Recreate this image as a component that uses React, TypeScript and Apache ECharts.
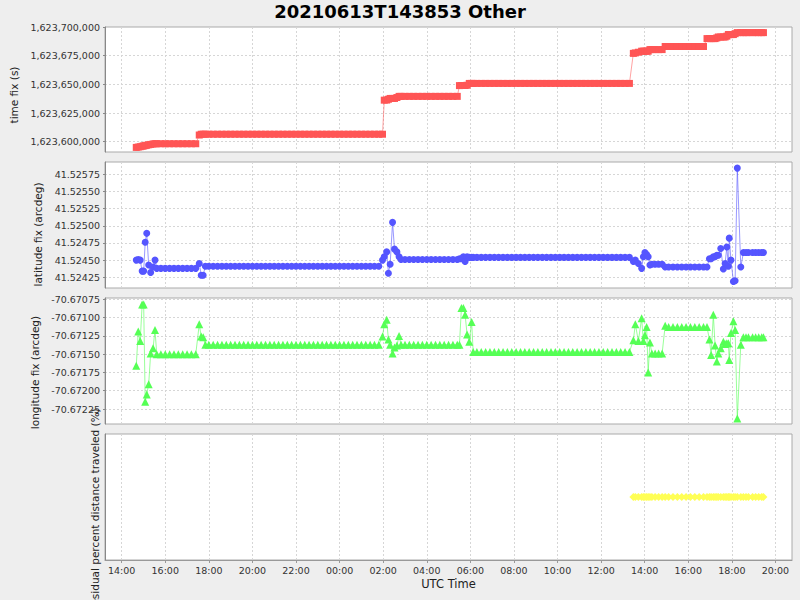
import React, { useEffect, useRef } from "react";
import * as echarts from "echarts";

// Hours since 2021-06-13 00:00 UTC (values above 24 are on 2021-06-14)
const timeH = [
  14.67, 14.76, 14.85, 14.94, 15.01, 15.08, 15.15, 15.24, 15.33, 15.44, 15.53, 15.61,
  15.8, 16.0, 16.2, 16.4, 16.6, 16.8, 17.0, 17.2, 17.4,
  17.56, 17.65, 17.74, 17.84,
  18.0, 18.2, 18.4, 18.6, 18.8, 19.0, 19.2, 19.4, 19.6, 19.8,
  20.0, 20.2, 20.4, 20.6, 20.8, 21.0, 21.2, 21.4, 21.6, 21.8,
  22.0, 22.2, 22.4, 22.6, 22.8, 23.0, 23.2, 23.4, 23.6, 23.8,
  24.0, 24.2, 24.4, 24.6, 24.8, 25.0, 25.2, 25.4, 25.6, 25.8,
  25.97, 26.05, 26.16, 26.24, 26.32, 26.43, 26.52, 26.63, 26.73, 26.82,
  27.0, 27.2, 27.4, 27.6, 27.8, 28.0, 28.2, 28.4, 28.6, 28.8, 29.0, 29.2, 29.4,
  29.5, 29.59, 29.68, 29.76, 29.85, 29.95, 30.06, 30.13,
  30.3, 30.5, 30.7, 30.9, 31.1, 31.3, 31.5, 31.7, 31.9, 32.1,
  32.3, 32.5, 32.7, 32.9, 33.1, 33.3, 33.5, 33.7, 33.9, 34.1,
  34.3, 34.5, 34.7, 34.9, 35.1, 35.3, 35.5, 35.7, 35.9, 36.1,
  36.3, 36.5, 36.7, 36.9, 37.1, 37.3,
  37.48, 37.57, 37.71, 37.86, 37.94, 38.01, 38.09, 38.16, 38.24, 38.33, 38.48, 38.64, 38.8, 38.94,
  39.1, 39.3, 39.5, 39.7, 39.9, 40.1, 40.3, 40.5, 40.7,
  40.86, 40.97, 41.05, 41.15, 41.23, 41.31, 41.38, 41.49, 41.61, 41.69, 41.77,
  41.84, 41.88, 41.96, 42.07, 42.15, 42.25, 42.41, 42.53, 42.65, 42.76,
  42.95, 43.09, 43.23, 43.37, 43.45,
];

const timeFix = [
  1623595000, 1623595300, 1623595600, 1623596000, 1623596300, 1623596600, 1623596900, 1623597300, 1623597600, 1623598000, 1623598200, 1623598200,
  1623598200, 1623598200, 1623598200, 1623598200, 1623598200, 1623598200, 1623598200, 1623598200, 1623598200,
  1623605800, 1623606500, 1623606500, 1623606500,
  1623606500, 1623606500, 1623606500, 1623606500, 1623606500, 1623606500, 1623606500, 1623606500, 1623606500, 1623606500,
  1623606500, 1623606500, 1623606500, 1623606500, 1623606500, 1623606500, 1623606500, 1623606500, 1623606500, 1623606500,
  1623606500, 1623606500, 1623606500, 1623606500, 1623606500, 1623606500, 1623606500, 1623606500, 1623606500, 1623606500,
  1623606500, 1623606500, 1623606500, 1623606500, 1623606500, 1623606500, 1623606500, 1623606500, 1623606500, 1623606500,
  1623606500, 1623636200, 1623636300, 1623637000, 1623637700, 1623637700, 1623637700, 1623638500, 1623639500, 1623639500,
  1623639500, 1623639500, 1623639500, 1623639500, 1623639500, 1623639500, 1623639500, 1623639500, 1623639500, 1623639500, 1623639500, 1623639500, 1623639500,
  1623648900, 1623649000, 1623649000, 1623649000, 1623649200, 1623650800, 1623650800, 1623650800,
  1623650800, 1623650800, 1623650800, 1623650800, 1623650800, 1623650800, 1623650800, 1623650800, 1623650800, 1623650800,
  1623650800, 1623650800, 1623650800, 1623650800, 1623650800, 1623650800, 1623650800, 1623650800, 1623650800, 1623650800,
  1623650800, 1623650800, 1623650800, 1623650800, 1623650800, 1623650800, 1623650800, 1623650800, 1623650800, 1623650800,
  1623650800, 1623650800, 1623650800, 1623650800, 1623650800, 1623650800,
  1623677000, 1623677400, 1623678000, 1623678900, 1623678900, 1623678900, 1623678900, 1623678900, 1623680300, 1623680300, 1623680300, 1623680300, 1623680300, 1623683000,
  1623683000, 1623683000, 1623683000, 1623683000, 1623683000, 1623683000, 1623683000, 1623683000, 1623683000,
  1623689900, 1623689900, 1623689900, 1623689900, 1623689900, 1623690500, 1623691300, 1623691300, 1623691300, 1623691300, 1623692000,
  1623693400, 1623693400, 1623693400, 1623693400, 1623694200, 1623695100, 1623695100, 1623695100, 1623695100, 1623695100,
  1623695100, 1623695100, 1623695100, 1623695100, 1623695100,
];

const latFix = [
  41.5245, 41.52451, 41.5245, 41.52434, 41.52434, 41.52476, 41.52489, 41.52443, 41.52432, 41.5244, 41.5245, 41.52438,
  41.52438, 41.52438, 41.52438, 41.52438, 41.52438, 41.52438, 41.52438, 41.52438, 41.52438,
  41.52445, 41.52428, 41.52428, 41.52441,
  41.52441, 41.52441, 41.52441, 41.52441, 41.52441, 41.52441, 41.52441, 41.52441, 41.52441, 41.52441,
  41.52441, 41.52441, 41.52441, 41.52441, 41.52441, 41.52441, 41.52441, 41.52441, 41.52441, 41.52441,
  41.52441, 41.52441, 41.52441, 41.52441, 41.52441, 41.52441, 41.52441, 41.52441, 41.52441, 41.52441,
  41.52441, 41.52441, 41.52441, 41.52441, 41.52441, 41.52441, 41.52441, 41.52441, 41.52441, 41.52441,
  41.5245, 41.52455, 41.52462, 41.52431, 41.52444, 41.52505, 41.52466, 41.52462, 41.52455, 41.52451,
  41.52451, 41.52451, 41.52451, 41.52451, 41.52451, 41.52451, 41.52451, 41.52451, 41.52451, 41.52451, 41.52451, 41.52451, 41.52451,
  41.52452, 41.52452, 41.52455, 41.52448, 41.52455, 41.52454, 41.52454, 41.52454,
  41.52454, 41.52454, 41.52454, 41.52454, 41.52454, 41.52454, 41.52454, 41.52454, 41.52454, 41.52454,
  41.52454, 41.52454, 41.52454, 41.52454, 41.52454, 41.52454, 41.52454, 41.52454, 41.52454, 41.52454,
  41.52454, 41.52454, 41.52454, 41.52454, 41.52454, 41.52454, 41.52454, 41.52454, 41.52454, 41.52454,
  41.52454, 41.52454, 41.52454, 41.52454, 41.52454, 41.52454,
  41.52448, 41.5245, 41.52445, 41.52438, 41.52455, 41.52461, 41.52458, 41.52455, 41.52443, 41.52444, 41.52444, 41.52444, 41.52444, 41.5244,
  41.5244, 41.5244, 41.5244, 41.5244, 41.5244, 41.5244, 41.5244, 41.5244, 41.5244,
  41.5244, 41.52452, 41.52452, 41.52455, 41.52455, 41.52457, 41.52457, 41.52467, 41.52437, 41.52445, 41.52469,
  41.52441, 41.52482, 41.5245, 41.52419, 41.5242, 41.52584, 41.5244, 41.52461, 41.52461, 41.52461,
  41.52461, 41.52461, 41.52461, 41.52461, 41.52461,
];

const lonFix = [
  -70.67166, -70.67119, -70.67132, -70.67082, -70.67082, -70.67215, -70.67205, -70.67191, -70.67149, -70.67142, -70.67117, -70.6715,
  -70.6715, -70.6715, -70.6715, -70.6715, -70.6715, -70.6715, -70.6715, -70.6715, -70.6715,
  -70.67109, -70.67126, -70.67127, -70.67137,
  -70.67137, -70.67137, -70.67137, -70.67137, -70.67137, -70.67137, -70.67137, -70.67137, -70.67137, -70.67137,
  -70.67137, -70.67137, -70.67137, -70.67137, -70.67137, -70.67137, -70.67137, -70.67137, -70.67137, -70.67137,
  -70.67137, -70.67137, -70.67137, -70.67137, -70.67137, -70.67137, -70.67137, -70.67137, -70.67137, -70.67137,
  -70.67137, -70.67137, -70.67137, -70.67137, -70.67137, -70.67137, -70.67137, -70.67137, -70.67137, -70.67137,
  -70.67126, -70.67109, -70.67103, -70.6713, -70.67137, -70.67149, -70.67141, -70.67138, -70.67125, -70.67137,
  -70.67137, -70.67137, -70.67137, -70.67137, -70.67137, -70.67137, -70.67137, -70.67137, -70.67137, -70.67137, -70.67137, -70.67137, -70.67137,
  -70.67137, -70.67087, -70.67087, -70.67096, -70.67123, -70.67133, -70.67106, -70.67147,
  -70.67147, -70.67147, -70.67147, -70.67147, -70.67147, -70.67147, -70.67147, -70.67147, -70.67147, -70.67147,
  -70.67147, -70.67147, -70.67147, -70.67147, -70.67147, -70.67147, -70.67147, -70.67147, -70.67147, -70.67147,
  -70.67147, -70.67147, -70.67147, -70.67147, -70.67147, -70.67147, -70.67147, -70.67147, -70.67147, -70.67147,
  -70.67147, -70.67147, -70.67147, -70.67147, -70.67147, -70.67147,
  -70.67131, -70.67109, -70.67132, -70.67101, -70.67132, -70.67124, -70.67113, -70.67175, -70.67134, -70.67149, -70.67149, -70.67149, -70.67149, -70.67111,
  -70.67113, -70.67113, -70.67113, -70.67113, -70.67113, -70.67113, -70.67113, -70.67113, -70.67113,
  -70.67113, -70.6713, -70.67151, -70.67096, -70.67138, -70.6716, -70.67149, -70.67142, -70.67133, -70.67136, -70.67135,
  -70.67135, -70.67158, -70.67121, -70.67105, -70.67117, -70.67238, -70.67137, -70.67127, -70.67127, -70.67127,
  -70.67127, -70.67127, -70.67127, -70.67127, -70.67127,
];

const residualTimeH = [
  37.48, 37.57, 37.71, 37.86, 37.94, 38.01, 38.09, 38.16, 38.24, 38.33, 38.48, 38.64, 38.8, 38.94,
  39.1, 39.3, 39.5, 39.7, 39.9, 40.1, 40.3, 40.5, 40.7,
  40.86, 40.97, 41.05, 41.15, 41.23, 41.31, 41.38, 41.49, 41.61, 41.69, 41.77,
  41.84, 41.88, 41.96, 42.07, 42.15, 42.25, 42.41, 42.53, 42.65, 42.76,
  42.95, 43.09, 43.23, 43.37, 43.45,
];
const residualPct = [
  0, 0, 0, 0, 0, 0, 0, 0, 0, 0, 0, 0, 0, 0,
  0, 0, 0, 0, 0, 0, 0, 0, 0,
  0, 0, 0, 0, 0, 0, 0, 0, 0, 0, 0,
  0, 0, 0, 0, 0, 0, 0, 0, 0, 0,
  0, 0, 0, 0, 0,
];

const titleText = "20210613T143853 Other";
const xName = "UTC Time";
const yNames = [
  "time fix (s)",
  "latitude fix (arcdeg)",
  "longitude fix (arcdeg)",
  "residual percent distance traveled (%)",
];

const FONT = "DejaVu Sans";

function fmtHour(v: number) {
  const h = ((Math.round(v) % 24) + 24) % 24;
  return (h < 10 ? "0" : "") + h + ":00";
}

export default function App() {
  const ref = useRef<HTMLDivElement>(null);
  useEffect(() => {
    const chart = echarts.init(ref.current!, null, { renderer: "svg" });
    const gridBoxes = [
      { top: 27, height: 125 },
      { top: 162, height: 126 },
      { top: 298, height: 126 },
      { top: 434, height: 126 },
    ];
    const grid = gridBoxes.map((g) => ({
      left: 105,
      right: 8,
      top: g.top,
      height: g.height,
      show: true,
      containLabel: false,
      outerBoundsMode: "none",
      backgroundColor: "#ffffff",
      borderColor: "#aaaaaa",
      borderWidth: 1,
    }));
    const splitLineStyle = { color: "#d6d6d6", type: [2, 2] as any, width: 1 };
    const xAxis = [0, 1, 2, 3].map((i) => ({
      type: "value",
      gridIndex: i,
      min: 13.235,
      max: 44.76,
      splitNumber: 15,
      minInterval: 2,
      maxInterval: 2,
      axisLine: { show: i === 3, onZero: false, lineStyle: { color: "#999" } },
      axisTick: { show: i === 3, length: 3, lineStyle: { color: "#999" } },
      axisLabel: {
        show: i === 3,
        formatter: fmtHour,
        showMinLabel: false,
        showMaxLabel: false,
        fontSize: 9.5,
        fontFamily: FONT,
        color: "#333",
        margin: 5,
      },
      splitLine: { show: true, showMinLine: false, showMaxLine: false, lineStyle: splitLineStyle },
      name: i === 3 ? xName : "",
      nameLocation: "middle",
      nameGap: 18,
      nameTextStyle: { fontSize: 11.5, fontFamily: FONT, color: "#222" },
    }));
    const yCommon = (i: number) => ({
      type: "value",
      gridIndex: i,
      axisLine: { show: true, onZero: false, lineStyle: { color: "#888" } },
      axisTick: { show: i !== 3, length: 2, lineStyle: { color: "#888" } },
      splitLine: { show: i !== 3, showMinLine: false, showMaxLine: false, lineStyle: splitLineStyle },
      name: yNames[i],
      nameLocation: "middle",
    });
    const labelBase = { fontSize: 9.5, fontFamily: FONT, color: "#333", margin: 5, showMinLabel: false, showMaxLabel: false, hideOverlap: false };
    const yAxis = [
      {
        ...yCommon(0),
        min: 1623591000,
        max: 1623700000,
        splitNumber: 4,
        minInterval: 25000,
        maxInterval: 25000,
        axisLabel: { ...labelBase, showMaxLabel: true, formatter: (v: number) => Math.round(v).toLocaleString("en-US") },
        nameGap: 81,
        nameTextStyle: { fontSize: 10.5, fontFamily: FONT, color: "#222", padding: [0, 11, 0, 0] },
      },
      {
        ...yCommon(1),
        min: 41.524094,
        max: 41.525929,
        splitNumber: 7,
        minInterval: 0.00025,
        maxInterval: 0.00025,
        axisLabel: { ...labelBase, formatter: (v: number) => v.toFixed(5) },
        nameGap: 58,
        nameTextStyle: { fontSize: 10.5, fontFamily: FONT, color: "#222", padding: [0, 19, 0, 0] },
      },
      {
        ...yCommon(2),
        min: -70.672455,
        max: -70.670732,
        splitNumber: 7,
        minInterval: 0.00025,
        maxInterval: 0.00025,
        axisLabel: { ...labelBase, formatter: (v: number) => v.toFixed(5) },
        nameGap: 62,
        nameTextStyle: { fontSize: 10.5, fontFamily: FONT, color: "#222", padding: [0, 23, 0, 0] },
      },
      {
        ...yCommon(3),
        min: -1,
        max: 1,
        axisLabel: { show: false },
        nameGap: 5,
        nameTextStyle: { fontSize: 10.5, fontFamily: FONT, color: "#222", padding: [0, 24, 0, 0] },
      },
    ];
    const mk = (
      idx: number,
      xs: number[],
      ys: number[],
      symbol: string,
      size: number | number[],
      color: string,
      lineColor: string
    ) => ({
      type: "line",
      xAxisIndex: idx,
      yAxisIndex: idx,
      data: xs.map((x, i) => [x, ys[i]]),
      symbol,
      symbolSize: size,
      showAllSymbol: true,
      itemStyle: { color, opacity: 1 },
      lineStyle: { color: lineColor, width: 1 },
      clip: true,
      z: 3,
    });
    chart.setOption({
      animation: false,
      backgroundColor: "#eeeeee",
      title: {
        text: titleText,
        left: "center",
        top: 2,
        padding: 0,
        textStyle: { fontSize: 18, fontWeight: "bold", fontFamily: FONT, color: "#000" },
      },
      grid,
      xAxis,
      yAxis,
      series: [
        mk(0, timeH, timeFix, "rect", 7, "#ff5555", "rgba(255,85,85,0.55)"),
        mk(1, timeH, latFix, "circle", 7, "#5555ff", "rgba(85,85,255,0.6)"),
        mk(2, timeH, lonFix, "triangle", 8, "#55ff55", "rgba(85,255,85,0.6)"),
        mk(3, residualTimeH, residualPct, "diamond", 8, "#ffff55", "rgba(255,255,85,0.6)"),
      ],
    });
    return () => chart.dispose();
  }, []);
  return (
    <div
      ref={ref}
      style={{ position: "fixed", left: 0, top: 0, width: 800, height: 600, background: "#eeeeee" }}
    />
  );
}
